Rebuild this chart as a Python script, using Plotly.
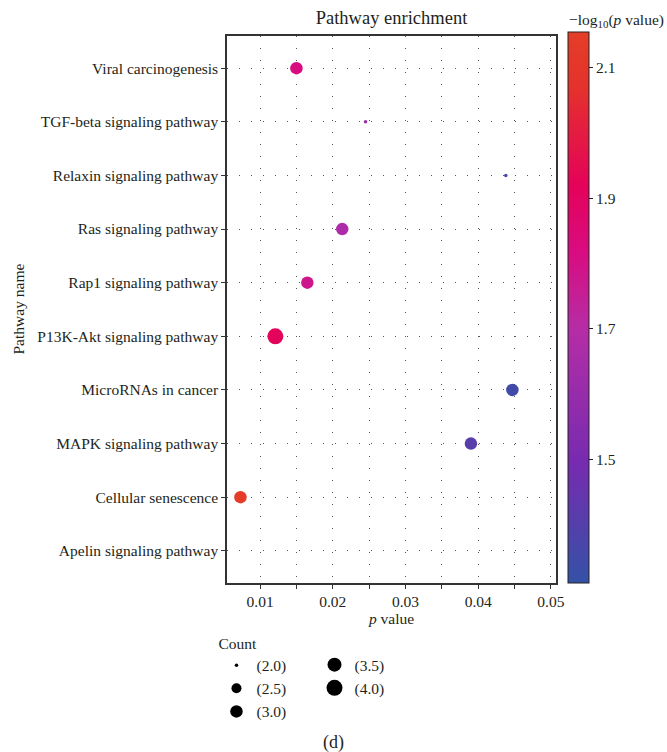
import plotly.graph_objects as go

# ---- data ----
pathways_bottom_to_top = [
    "Apelin signaling pathway",
    "Cellular senescence",
    "MAPK signaling pathway",
    "MicroRNAs in cancer",
    "P13K-Akt signaling pathway",
    "Rap1 signaling pathway",
    "Ras signaling pathway",
    "Relaxin signaling pathway",
    "TGF-beta signaling pathway",
    "Viral carcinogenesis",
]
point_pathways = [
    "Viral carcinogenesis",
    "TGF-beta signaling pathway",
    "Relaxin signaling pathway",
    "Ras signaling pathway",
    "Rap1 signaling pathway",
    "P13K-Akt signaling pathway",
    "MicroRNAs in cancer",
    "MAPK signaling pathway",
    "Cellular senescence",
]
p_values = [0.0150, 0.0245, 0.0438, 0.0213, 0.0165, 0.0121, 0.0447, 0.0390, 0.0073]
neg_log_p = [1.82, 1.61, 1.36, 1.67, 1.78, 1.92, 1.35, 1.41, 2.14]
counts = [3, 2, 2, 3, 3, 4, 3, 3, 3]

legend_counts = [2.0, 2.5, 3.0, 3.5, 4.0]
color_ticks = [1.5, 1.7, 1.9, 2.1]
x_ticks = [0.01, 0.02, 0.03, 0.04, 0.05]

FONT = "Liberation Serif"
TXT = "#231F20"
FS = 15.5

def diam(c):
    # area-like size mapping: 2 -> ~3px, 4 -> ~16px
    return {2.0: 3.5, 2.5: 10, 3.0: 12.5, 3.5: 14, 4.0: 16}.get(c, 12.5)

colorscale = [
    [0.00, "#3452A6"],
    [0.22, "#772BB0"],
    [0.46, "#B52DA6"],
    [0.60, "#D90C80"],
    [0.72, "#E4025A"],
    [0.90, "#E4322C"],
    [1.00, "#E43E28"],
]

fig = go.Figure()

fig.add_trace(go.Scatter(
    x=p_values, y=point_pathways, mode="markers",
    marker=dict(
        size=[diam(float(c)) for c in counts],
        color=neg_log_p, colorscale=colorscale, cmin=1.31, cmax=2.155,
        opacity=1, line=dict(width=0),
        colorbar=dict(
            thickness=21, len=1.007, lenmode="fraction",
            x=1.036, xanchor="left", xpad=0,
            y=0, yanchor="bottom", ypad=0,
            outlinewidth=1, outlinecolor="#222",
            tickvals=color_ticks, ticktext=[f"{v:.1f}" for v in color_ticks],
            ticks="outside", ticklen=4, tickcolor="#222",
            tickfont=dict(family=FONT, size=FS, color=TXT),
        ),
    ),
    showlegend=False, hoverinfo="x+y",
))

# size legend entries (two columns, like the reference)
for i, c in enumerate(legend_counts):
    fig.add_trace(go.Scatter(
        x=[None], y=[None], mode="markers",
        marker=dict(size=diam(c), color="black"),
        name=f"({c:.1f})",
        legend="legend" if i < 3 else "legend2",
        showlegend=True,
    ))

fig.update_layout(
    width=667, height=752,
    margin=dict(l=227, r=111, t=36, b=169),
    paper_bgcolor="white", plot_bgcolor="white",
    font=dict(family=FONT, size=FS, color=TXT),
    title=dict(text="Pathway enrichment", x=0.5, xref="paper", xanchor="center",
               y=1 - 18 / 752, yref="container", yanchor="middle",
               font=dict(family=FONT, size=18.5, color=TXT)),
    xaxis=dict(
        range=[0.00545, 0.0507],
        tickvals=x_ticks, ticktext=[f"{v:.2f}" for v in x_ticks],
        ticks="outside", ticklen=4, tickcolor="#333",
        tickfont=dict(family=FONT, size=FS, color=TXT),
        minor=dict(dtick=0.005, tick0=0, ticks="outside", ticklen=4, tickcolor="#333",
                   showgrid=True, gridcolor="#555", griddash="1px,11px", gridwidth=1),
        showgrid=True, gridcolor="#555", griddash="1px,11px", gridwidth=1,
        showline=True, linecolor="#333", linewidth=1.5, mirror=True,
        zeroline=False,
        title=dict(text="<i>p</i> value", standoff=2,
                   font=dict(family=FONT, size=FS, color=TXT)),
    ),
    yaxis=dict(
        type="category", categoryorder="array", categoryarray=pathways_bottom_to_top,
        range=[-0.6, 9.6],
        ticks="outside", ticklen=4, tickcolor="#333",
        tickfont=dict(family=FONT, size=FS, color=TXT),
        showgrid=True, gridcolor="#555", griddash="1px,11px", gridwidth=1,
        showline=True, linecolor="#333", linewidth=1.5, mirror=True,
        zeroline=False,
    ),
    legend=dict(
        title=dict(text="Count", font=dict(family=FONT, size=FS, color=TXT)),
        x=-0.032, xanchor="left", y=-0.083, yanchor="top",
        orientation="v", itemsizing="trace", itemwidth=30,
        font=dict(family=FONT, size=FS, color=TXT),
        bgcolor="rgba(0,0,0,0)", tracegroupgap=0,
    ),
    legend2=dict(
        x=0.266, xanchor="left", y=-0.119, yanchor="top",
        orientation="v", itemsizing="trace", itemwidth=30,
        font=dict(family=FONT, size=FS, color=TXT),
        bgcolor="rgba(0,0,0,0)", tracegroupgap=0,
    ),
    annotations=[
        dict(text="−log<sub>10</sub>(<i>p</i> value)", x=(567 - 227) / 329, y=(583 - 20) / 547,
             xref="paper", yref="paper", showarrow=False, xanchor="left", yanchor="middle",
             font=dict(family=FONT, size=FS, color=TXT)),
        dict(text="Pathway name", textangle=-90, x=(18 - 227) / 329, y=0.5,
             xref="paper", yref="paper", showarrow=False, xanchor="center", yanchor="middle",
             font=dict(family=FONT, size=FS, color=TXT)),
        dict(text="(d)", x=(333 - 227) / 329, y=(583 - 742) / 547,
             xref="paper", yref="paper", showarrow=False, xanchor="center", yanchor="middle",
             font=dict(family=FONT, size=18, color=TXT)),
    ],
)

fig.write_html("out.html")
